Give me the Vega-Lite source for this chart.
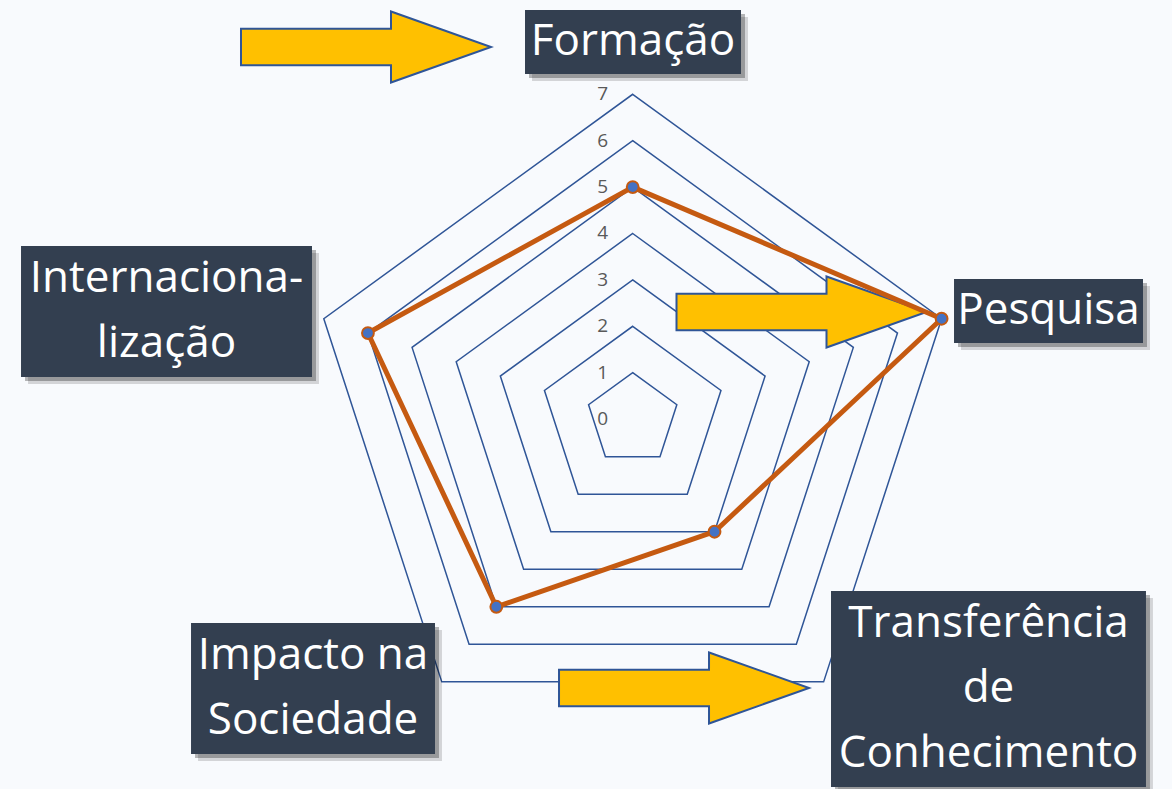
{
  "$schema": "https://vega.github.io/schema/vega-lite/v6.json",
  "width": 1172,
  "height": 789,
  "padding": 0,
  "autosize": {"type": "none"},
  "background": "#f8fafd",
  "config": {"view": {"stroke": null}},
  "datasets": {
    "scores": [
      {"k": 0, "axis": "Formação", "value": 5},
      {"k": 1, "axis": "Pesquisa", "value": 7},
      {"k": 2, "axis": "Transferência de Conhecimento", "value": 3},
      {"k": 3, "axis": "Impacto na Sociedade", "value": 5},
      {"k": 4, "axis": "Internacionalização", "value": 6}
    ],
    "grid": [
      {"k": 0, "levels": [1, 2, 3, 4, 5, 6, 7]},
      {"k": 1, "levels": [1, 2, 3, 4, 5, 6, 7]},
      {"k": 2, "levels": [1, 2, 3, 4, 5, 6, 7]},
      {"k": 3, "levels": [1, 2, 3, 4, 5, 6, 7]},
      {"k": 4, "levels": [1, 2, 3, 4, 5, 6, 7]}
    ],
    "ticks": [
      {"level": 0}, {"level": 1}, {"level": 2}, {"level": 3},
      {"level": 4}, {"level": 5}, {"level": 6}, {"level": 7}
    ],
    "arrows": [
      {"id": "a1", "ax": -5.748, "ay": 8.019},
      {"id": "a2", "ax": 3.638, "ay": 2.308},
      {"id": "a3", "ax": 1.106, "ay": -5.795}
    ],
    "labels": [
      {"label": "Formação", "x1": -2.321, "x2": 2.334, "y1": 8.817, "y2": 7.438, "tx": 0.006, "ty": 8.127},
      {"label": "Pesquisa", "x1": 6.925, "x2": 10.998, "y1": 3.019, "y2": 1.640, "tx": 8.961, "ty": 2.330},
      {"label": "Transferência|de|Conhecimento", "x1": 4.274, "x2": 11.062, "y1": -3.705, "y2": -7.929, "tx": 7.668, "ty": -4.416},
      {"label": "Impacto na|Sociedade", "x1": -9.519, "x2": -4.261, "y1": -4.394, "y2": -7.218, "tx": -6.890, "ty": -5.106},
      {"label": "Internaciona-|lização", "x1": -13.183, "x2": -6.912, "y1": 3.731, "y2": 0.907, "tx": -10.048, "ty": 3.019}
    ]
  },
  "layer": [
    {
      "data": {"name": "grid"},
      "transform": [
        {"flatten": ["levels"], "as": ["level"]},
        {"calculate": "datum.level*cos(PI*(90-72*datum.k)/180)", "as": "gx"},
        {"calculate": "datum.level*sin(PI*(90-72*datum.k)/180)", "as": "gy"}
      ],
      "mark": {"type": "line", "interpolate": "linear-closed", "stroke": "#2F5597", "strokeWidth": 1.5},
      "encoding": {
        "x": {"field": "gx", "type": "quantitative", "axis": null, "scale": {"domain": [-13.636, 11.623], "nice": false, "zero": false}},
        "y": {"field": "gy", "type": "quantitative", "axis": null, "scale": {"domain": [-7.972, 9.032], "nice": false, "zero": false}},
        "detail": {"field": "level", "type": "nominal"},
        "order": {"field": "k", "type": "quantitative"}
      }
    },
    {
      "data": {"name": "arrows"},
      "mark": {"type": "point", "shape": "M-1,-0.146L0.2,-0.146L0.2,-0.284L1,0L0.2,0.284L0.2,0.146L-1,0.146Z", "size": 62500, "filled": true, "fill": "#FFC000", "stroke": "#2F5597", "strokeWidth": 2, "opacity": 1},
      "encoding": {
        "x": {"field": "ax", "type": "quantitative", "axis": null, "scale": {"domain": [-13.636, 11.623], "nice": false, "zero": false}},
        "y": {"field": "ay", "type": "quantitative", "axis": null, "scale": {"domain": [-7.972, 9.032], "nice": false, "zero": false}}
      }
    },
    {
      "data": {"name": "scores"},
      "transform": [
        {"calculate": "datum.value*cos(PI*(90-72*datum.k)/180)", "as": "gx"},
        {"calculate": "datum.value*sin(PI*(90-72*datum.k)/180)", "as": "gy"}
      ],
      "layer": [
        {
          "mark": {"type": "line", "interpolate": "linear-closed", "stroke": "#C55A11", "strokeWidth": 5, "strokeJoin": "round"},
          "encoding": {
            "x": {"field": "gx", "type": "quantitative", "axis": null, "scale": {"domain": [-13.636, 11.623], "nice": false, "zero": false}},
            "y": {"field": "gy", "type": "quantitative", "axis": null, "scale": {"domain": [-7.972, 9.032], "nice": false, "zero": false}},
            "order": {"field": "k", "type": "quantitative"}
          }
        },
        {
          "mark": {"type": "point", "filled": true, "fill": "#4472C4", "stroke": "#C55A11", "strokeWidth": 2, "size": 140, "opacity": 1},
          "encoding": {
            "x": {"field": "gx", "type": "quantitative", "axis": null, "scale": {"domain": [-13.636, 11.623], "nice": false, "zero": false}},
            "y": {"field": "gy", "type": "quantitative", "axis": null, "scale": {"domain": [-7.972, 9.032], "nice": false, "zero": false}}
          }
        }
      ]
    },
    {
      "data": {"name": "ticks"},
      "mark": {"type": "text", "dx": -30, "fontSize": 19, "font": "Open Sans", "fill": "#595959", "align": "center", "baseline": "middle"},
      "encoding": {
        "x": {"datum": 0, "type": "quantitative", "axis": null, "scale": {"domain": [-13.636, 11.623], "nice": false, "zero": false}},
        "y": {"field": "level", "type": "quantitative", "axis": null, "scale": {"domain": [-7.972, 9.032], "nice": false, "zero": false}},
        "text": {"field": "level", "type": "nominal"}
      }
    },
    {
      "data": {"name": "labels"},
      "layer": [
        {
          "mark": {"type": "rect", "fill": "#000000", "opacity": 0.15, "xOffset": 7, "x2Offset": 7, "yOffset": 7, "y2Offset": 7},
          "encoding": {
            "x": {"field": "x1", "type": "quantitative", "axis": null, "scale": {"domain": [-13.636, 11.623], "nice": false, "zero": false}},
            "x2": {"field": "x2"},
            "y": {"field": "y1", "type": "quantitative", "axis": null, "scale": {"domain": [-7.972, 9.032], "nice": false, "zero": false}},
            "y2": {"field": "y2"}
          }
        },
        {
          "mark": {"type": "rect", "fill": "#000000", "opacity": 0.28, "xOffset": 4, "x2Offset": 4, "yOffset": 4, "y2Offset": 4},
          "encoding": {
            "x": {"field": "x1", "type": "quantitative", "axis": null, "scale": {"domain": [-13.636, 11.623], "nice": false, "zero": false}},
            "x2": {"field": "x2"},
            "y": {"field": "y1", "type": "quantitative", "axis": null, "scale": {"domain": [-7.972, 9.032], "nice": false, "zero": false}},
            "y2": {"field": "y2"}
          }
        },
        {
          "mark": {"type": "rect", "fill": "#333F50", "opacity": 1},
          "encoding": {
            "x": {"field": "x1", "type": "quantitative", "axis": null, "scale": {"domain": [-13.636, 11.623], "nice": false, "zero": false}},
            "x2": {"field": "x2"},
            "y": {"field": "y1", "type": "quantitative", "axis": null, "scale": {"domain": [-7.972, 9.032], "nice": false, "zero": false}},
            "y2": {"field": "y2"}
          }
        },
        {
          "mark": {"type": "text", "fill": "#FFFFFF", "fontSize": 44, "font": "Open Sans", "lineHeight": 65, "lineBreak": "|", "align": "center", "baseline": "middle"},
          "encoding": {
            "x": {"field": "tx", "type": "quantitative", "axis": null, "scale": {"domain": [-13.636, 11.623], "nice": false, "zero": false}},
            "y": {"field": "ty", "type": "quantitative", "axis": null, "scale": {"domain": [-7.972, 9.032], "nice": false, "zero": false}},
            "text": {"field": "label", "type": "nominal"}
          }
        }
      ]
    }
  ]
}
